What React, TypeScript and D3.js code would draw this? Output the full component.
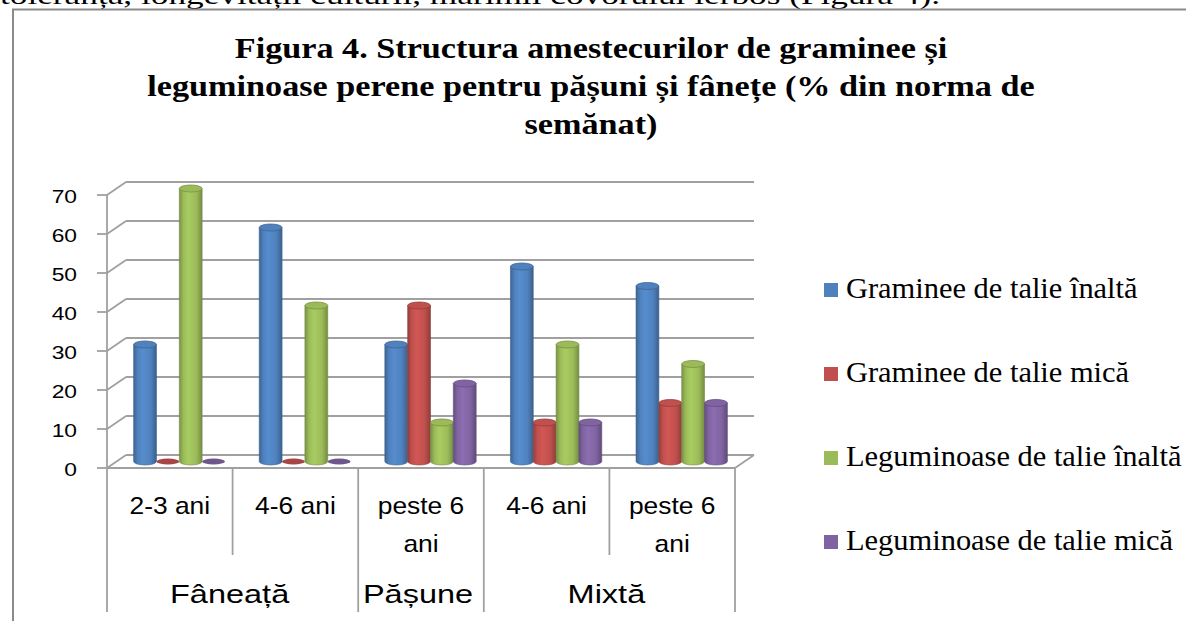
import * as d3 from "d3";

// chart data
const categories = [["2-3 ani"], ["4-6 ani"], ["peste 6", "ani"], ["4-6 ani"], ["peste 6", "ani"]];
const groupLabels = ["Fâneață", "Fâneață", "Pășune", "Mixtă", "Mixtă"];
const seriesNames = [
  "Graminee de talie înaltă",
  "Graminee de talie mică",
  "Leguminoase de talie înaltă",
  "Leguminoase de talie mică",
];
const grInalta = [30, 60, 30, 50, 45];
const grMica = [0, 0, 40, 10, 15];
const legInalta = [70, 40, 10, 30, 25];
const legMica = [0, 0, 20, 10, 15];
const seriesValues = [grInalta, grMica, legInalta, legMica];
const seriesColors = ["#4F81BD", "#C0504D", "#9BBB59", "#8064A2"];
const yTicks = [0, 10, 20, 30, 40, 50, 60, 70];
const titleLines = [
  "Figura 4. Structura amestecurilor de graminee și",
  "leguminoase perene pentru pășuni și fânețe (% din norma de",
  "semănat)",
];
const introLine = "toleranța, longevitații culturii, mărimii covorului ierbos (Figura 4).";

const W = 1186;
const H = 621;
const plot = { left: 107, right: 735, base: 468, top: 195 };
const depth = { dx: 19, dy: -13 };
const gridColor = "#a0a0a0";
const sans = "'Liberation Sans', Arial, sans-serif";
const serif = "'Liberation Serif', 'Times New Roman', serif";

export default function App() {
  const x = d3
    .scaleBand<number>()
    .domain(d3.range(categories.length))
    .range([plot.left, plot.right]);
  const y = d3.scaleLinear().domain([0, 70]).range([plot.base, plot.top]);
  const xs = d3
    .scaleBand<number>()
    .domain(d3.range(seriesNames.length))
    .range([0, x.bandwidth()])
    .paddingInner(0)
    .paddingOuter(0.75);

  // runs of group labels
  const runs: { label: string; start: number; end: number }[] = [];
  groupLabels.forEach((g, i) => {
    const last = runs[runs.length - 1];
    if (last && last.label === g) last.end = i + 1;
    else runs.push({ label: g, start: i, end: i + 1 });
  });

  const bw = xs.bandwidth();
  const rx = bw / 2;
  const ry = 3.5;
  const midDx = depth.dx / 2;
  const midDy = depth.dy / 2;

  const bars: JSX.Element[] = [];
  categories.forEach((_, ci) => {
    seriesValues.forEach((vals, si) => {
      const v = vals[ci];
      const l = (x(ci) as number) + (xs(si) as number) + midDx;
      const r = l + bw;
      const by = y(0) + midDy;
      const ty = y(v) + midDy;
      const base = d3.color(seriesColors[si])!;
      if (v === 0) {
        bars.push(
          <ellipse
            key={`b${ci}-${si}`}
            cx={l + rx}
            cy={by}
            rx={rx}
            ry={ry - 0.5}
            fill={base.darker(0.4).toString()}
          />
        );
        return;
      }
      bars.push(
        <g key={`b${ci}-${si}`}>
          <path
            d={`M${l},${ty} L${l},${by} A${rx},${ry} 0 0 0 ${r},${by} L${r},${ty} Z`}
            fill={`url(#grad${si})`}
            stroke={base.darker(0.8).toString()}
            strokeWidth={0.6}
          />
          <ellipse
            cx={l + rx}
            cy={ty}
            rx={rx}
            ry={ry}
            fill={base.toString()}
            stroke={base.darker(0.7).toString()}
            strokeWidth={0.8}
          />
        </g>
      );
    });
  });

  const boundaries = d3.range(categories.length + 1).map((b) => {
    const long =
      b === 0 || b === categories.length || groupLabels[b - 1] !== groupLabels[b];
    const bx = b === categories.length ? plot.right : (x(b) as number);
    return { bx, long };
  });

  return (
    <div style={{ position: "fixed", left: 0, top: 0 }}>
      <svg width={W} height={H} style={{ display: "block", background: "#fff" }}>
        <defs>
          {seriesColors.map((c, i) => {
            const col = d3.color(c)!;
            return (
              <linearGradient key={i} id={`grad${i}`} x1="0" x2="1" y1="0" y2="0">
                <stop offset="0" stopColor={col.darker(0.7).toString()} />
                <stop offset="0.18" stopColor={col.toString()} />
                <stop offset="0.4" stopColor={col.brighter(0.25).toString()} />
                <stop offset="0.75" stopColor={col.toString()} />
                <stop offset="1" stopColor={col.darker(0.8).toString()} />
              </linearGradient>
            );
          })}
        </defs>

        {/* cut-off line of the document above */}
        <text
          x={0}
          y={4}
          textLength={940}
          lengthAdjust="spacingAndGlyphs"
          fontFamily={serif}
          fontSize={26}
          fill="#000"
        >
          {introLine}
        </text>

        {/* chart frame */}
        <rect x={13} y={9.5} width={W} height={H} fill="none" stroke="#8a8a8a" strokeWidth={2} />

        {/* title */}
        {titleLines.map((t, i) => (
          <text
            key={i}
            transform={`translate(591,${58 + i * 38}) scale(1.14,1)`}
            textAnchor="middle"
            fontFamily={serif}
            fontWeight="bold"
            fontSize={30}
            fill="#000"
          >
            {t}
          </text>
        ))}

        {/* back wall gridlines and side wall */}
        {yTicks.map((t) => (
          <g key={t} stroke={gridColor} strokeWidth={1.8} fill="none">
            <line
              x1={plot.left + depth.dx}
              x2={plot.right + depth.dx}
              y1={y(t) + depth.dy}
              y2={y(t) + depth.dy}
            />
            <line x1={plot.left} x2={plot.left + depth.dx} y1={y(t)} y2={y(t) + depth.dy} />
            <line x1={plot.left - 10} x2={plot.left} y1={y(t)} y2={y(t)} />
          </g>
        ))}
        <line x1={plot.left} x2={plot.left} y1={y(70)} y2={y(0)} stroke={gridColor} strokeWidth={1.8} />
        {/* floor */}
        <line x1={plot.left} x2={plot.right} y1={y(0)} y2={y(0)} stroke={gridColor} strokeWidth={1.8} />
        <line
          x1={plot.right}
          x2={plot.right + depth.dx}
          y1={y(0)}
          y2={y(0) + depth.dy}
          stroke={gridColor}
          strokeWidth={1.8}
        />

        {/* y tick labels */}
        {yTicks.map((t) => (
          <text
            key={t}
            transform={`translate(77,${y(t) + 8}) scale(1.2,1)`}
            textAnchor="end"
            fontFamily={sans}
            fontSize={19}
            fill="#000"
          >
            {t}
          </text>
        ))}

        {bars}

        {/* category dividers */}
        {boundaries.map((b, i) => (
          <line
            key={i}
            x1={b.bx}
            x2={b.bx}
            y1={plot.base}
            y2={b.long ? 612 : 555}
            stroke={gridColor}
            strokeWidth={1.8}
          />
        ))}

        {/* category labels */}
        {categories.map((lines, ci) =>
          lines.map((ln, li) => (
            <text
              key={`c${ci}-${li}`}
              transform={`translate(${(x(ci) as number) + x.bandwidth() / 2},${514 + li * 38}) scale(1.1,1)`}
              textAnchor="middle"
              fontFamily={sans}
              fontSize={24}
              fill="#000"
            >
              {ln}
            </text>
          ))
        )}

        {/* group labels */}
        {runs.map((r) => {
          const cx = ((x(r.start) as number) + (x(r.end - 1) as number) + x.bandwidth()) / 2;
          return (
            <text
              key={r.label}
              transform={`translate(${cx - 3},603) scale(1.3,1)`}
              textAnchor="middle"
              fontFamily={sans}
              fontSize={25}
              fill="#000"
            >
              {r.label}
            </text>
          );
        })}

        {/* legend */}
        {seriesNames.map((name, i) => {
          const cy = 290 + i * 84;
          return (
            <g key={name}>
              <rect x={824} y={cy - 7} width={14} height={14} fill={seriesColors[i]} />
              <text
                transform={`translate(846,${cy + 8}) scale(1.05,1)`}
                fontFamily={serif}
                fontSize={29}
                fill="#000"
              >
                {name}
              </text>
            </g>
          );
        })}
      </svg>
    </div>
  );
}
